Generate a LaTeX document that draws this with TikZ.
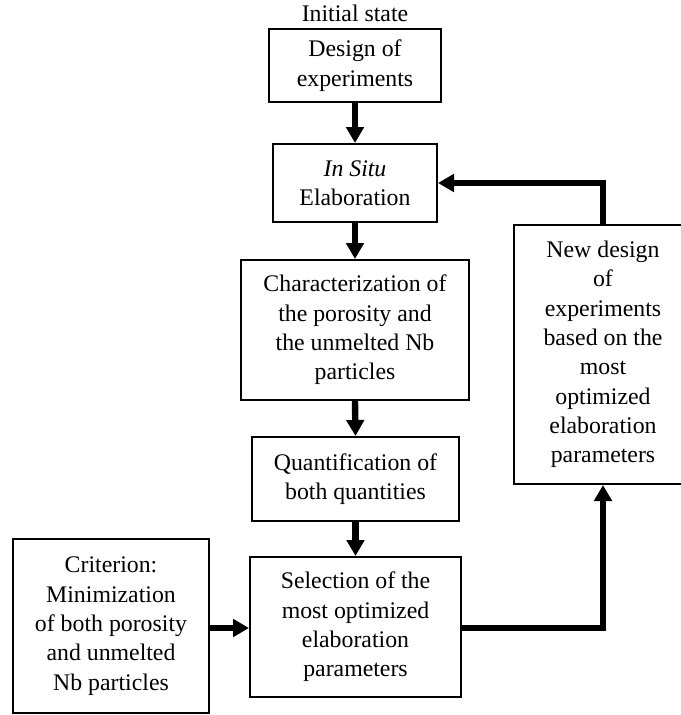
\documentclass[tikz,border=0pt]{standalone}
\usepackage{fontspec}
\setmainfont{Liberation Serif}
\usetikzlibrary{arrows.meta}
\begin{document}
\begin{tikzpicture}[x=0.75pt,y=-0.75pt,
  box/.style={draw,line width=1.5pt,align=center,inner sep=0pt,
    font=\fontsize{17.85}{22}\selectfont},
  flow/.style={line width=4.8pt,-{Triangle[width=13pt,length=12pt]}}]
\useasboundingbox (0,0) rectangle (681,715);
\node[font=\fontsize{17.85}{22}\selectfont] (init) at (355,13) {Initial state};
\node[box,minimum width=172*0.75pt,minimum height=73*0.75pt] (b1) at (355,65.5) {Design of\\experiments};
\node[box,minimum width=164*0.75pt,minimum height=78*0.75pt] (b2) at (355,183) {\textit{In Situ}\\Elaboration};
\node[box,minimum width=228*0.75pt,minimum height=140*0.75pt] (b3) at (355,330) {Characterization of\\the porosity and\\the unmelted Nb\\particles};
\node[box,minimum width=207*0.75pt,minimum height=84*0.75pt] (b4) at (355.5,479) {Quantification of\\both quantities};
\node[box,minimum width=211*0.75pt,minimum height=140*0.75pt] (b5) at (355.5,627) {Selection of the\\most optimized\\elaboration\\parameters};
\node[box,minimum width=196*0.75pt,minimum height=174*0.75pt] (b6) at (111,626) {Criterion:\\Minimization\\of both porosity\\and unmelted\\Nb particles};
\node[box,minimum width=178*0.75pt,minimum height=259*0.75pt] (b7) at (603,354.5) {New design\\of\\experiments\\based on the\\most\\optimized\\elaboration\\parameters};
\coordinate (c1) at (603,628);
\coordinate (c2) at (603,183);
\draw[flow] (b1.south) -- (b2.north);
\draw[flow] (b2.south) -- (b3.north);
\draw[flow] (b3.south) -- (b4.north);
\draw[flow] (b4.south) -- (b5.north);
\draw[flow] (b6.east |- c1) -- (b5.west |- c1);
\draw[flow] (b5.east |- c1) -- (c1) -- (b7.south);
\draw[flow] (b7.north) -- (c2) -- (b2.east);
\end{tikzpicture}
\end{document}
